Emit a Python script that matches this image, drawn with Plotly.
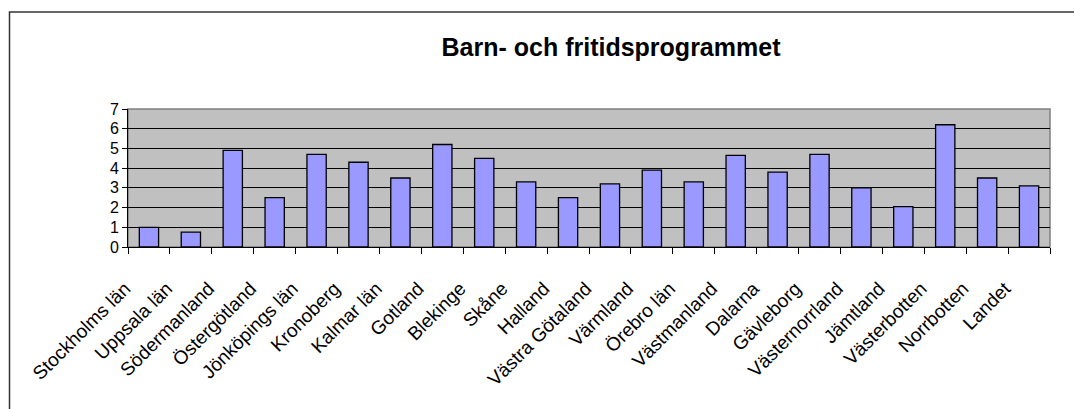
import plotly.graph_objects as go

lan = ["Stockholms län", "Uppsala län", "Södermanland", "Östergötland", "Jönköpings län",
       "Kronoberg", "Kalmar län", "Gotland", "Blekinge", "Skåne", "Halland",
       "Västra Götaland", "Värmland", "Örebro län", "Västmanland", "Dalarna",
       "Gävleborg", "Västernorrland", "Jämtland", "Västerbotten", "Norrbotten", "Landet"]
andel = [1.0, 0.75, 4.9, 2.5, 4.7, 4.3, 3.5, 5.2, 4.5, 3.3, 2.5,
         3.2, 3.9, 3.3, 4.65, 3.8, 4.7, 3.0, 2.05, 6.2, 3.5, 3.1]
y_ticks = [0, 1, 2, 3, 4, 5, 6, 7]

# sidan har 8 px marginal i body, så figuren görs 8 px mindre
W, H = 1074, 401
L, R, T, B = 120, 32, 101, 162
pw, ph = W - L - R, H - T - B

fig = go.Figure()
fig.add_trace(go.Bar(x=lan, y=andel, marker=dict(color="#9999FF", line=dict(color="black", width=1.3)),
                     width=0.46))

# yttre ram runt diagrammet
fig.add_shape(type="rect", xref="paper", yref="paper",
              x0=(1.5 - L) / pw, x1=(1095 - L) / pw,
              y0=(H - B - 430) / ph, y1=(H - B - 4) / ph,
              line=dict(color="#333333", width=1.5), layer="below")

fig.update_layout(
    width=W, height=H,
    margin=dict(l=L, r=R, t=T, b=B),
    paper_bgcolor="white", plot_bgcolor="#C0C0C0",
    font=dict(family="Arial, Liberation Sans", color="black"),
    title=dict(text="<b>Barn- och fritidsprogrammet</b>", x=603 / W, xanchor="center",
               y=1 - 39 / H, yanchor="middle", font=dict(size=25)),
    showlegend=False,
)
fig.update_xaxes(showline=True, linecolor="black", linewidth=1, ticks="outside", tickson="boundaries",
                 ticklen=6, tickcolor="black", tickangle=-45, tickfont=dict(size=19),
                 ticklabelshift=-24, ticklabelstandoff=22, mirror=False, showgrid=False)
fig.update_yaxes(range=[0, 7], tickvals=y_ticks, showline=True, linecolor="black", linewidth=1,
                 ticks="outside", ticklen=5, tickcolor="black", tickfont=dict(size=16),
                 showgrid=True, gridcolor="black", gridwidth=1, zeroline=False)

# grå kant uppe och till höger om ritytan
fig.add_shape(type="rect", xref="paper", yref="paper", x0=0, x1=1, y0=0, y1=1,
              line=dict(color="#808080", width=1.5), layer="below")

fig.write_html("out.html")
